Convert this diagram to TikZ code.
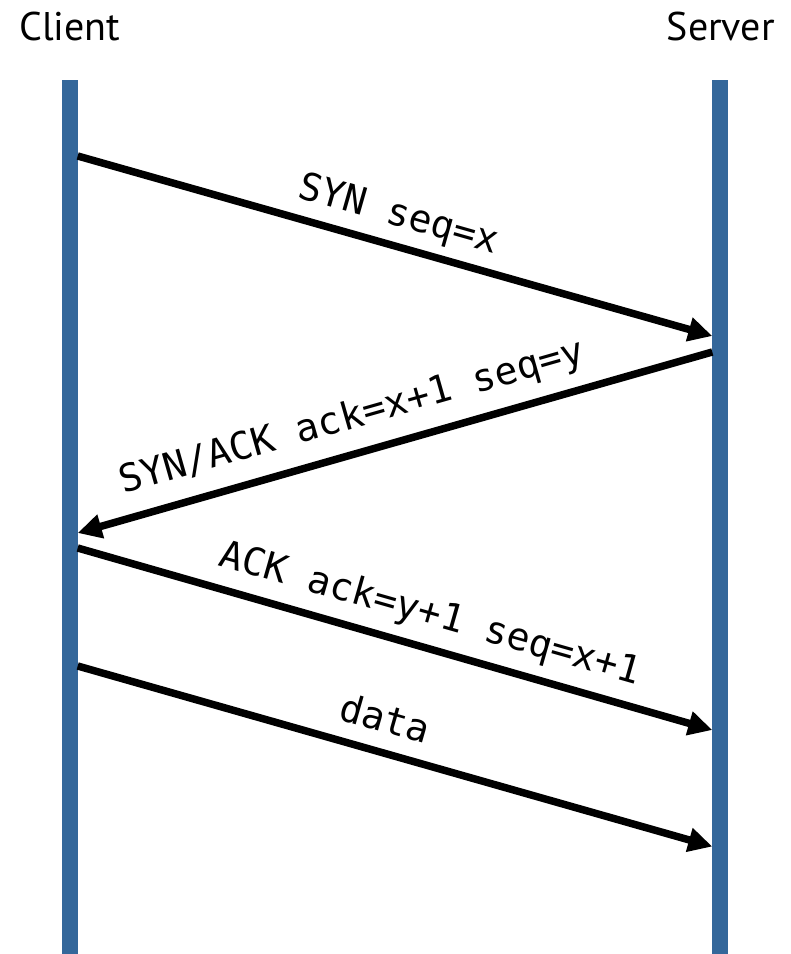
\documentclass[tikz,border=0pt]{standalone}
\usepackage{fontspec}
\setmainfont{PT Sans}
\newfontfamily\monofont{DejaVu Sans Mono}
\usetikzlibrary{arrows.meta}
\definecolor{barblue}{RGB}{52,103,154}
\tikzset{
  lifeline/.style={fill=barblue, draw=none, minimum width=11.55pt, inner sep=0pt},
  msg/.style={line width=5.6pt, -{Triangle[length=18pt,width=17.5pt]}},
  lbl/.style={font=\monofont\fontsize{28.6}{30}\selectfont, inner sep=0pt, anchor=base west},
  head/.style={font=\fontsize{30}{34}\selectfont, inner sep=0pt}
}
\begin{document}
\begin{tikzpicture}[x=0.75pt,y=-0.75pt]
\useasboundingbox (0,0) rectangle (790,954);
% lifelines
\node[lifeline, minimum height=655.5pt, anchor=north] (cbar) at (70,80) {};
\node[lifeline, minimum height=655.5pt, anchor=north] (sbar) at (720,80) {};
% headers
\node[head, anchor=base west] (client) at (19,40) {Client};
\node[head, anchor=base east] (server) at (775,40) {Server};
% message end points
\coordinate (c1) at (77.7,156);
\coordinate (s1) at (712.3,336);
\coordinate (s2) at (712.3,352);
\coordinate (c2) at (77.7,533);
\coordinate (c3) at (77.7,548);
\coordinate (s3) at (712.3,730);
\coordinate (c4) at (77.7,666);
\coordinate (s4) at (712.3,846.5);
\draw[msg] (c1) -- (s1);
\draw[msg] (s2) -- (c2);
\draw[msg] (c3) -- (s3);
\draw[msg] (c4) -- (s4);
% labels
\node[lbl, rotate=-15.9] (l1) at (296,197) {SYN seq=x};
\node[lbl, rotate=15.9] (l2) at (123,494) {SYN/ACK ack=x+1 seq=y};
\node[lbl, rotate=-15.9] (l3) at (217,565) {ACK ack=y+1 seq=x+1};
\node[lbl, rotate=-15.9] (l4) at (337,719) {data};
\end{tikzpicture}
\end{document}
